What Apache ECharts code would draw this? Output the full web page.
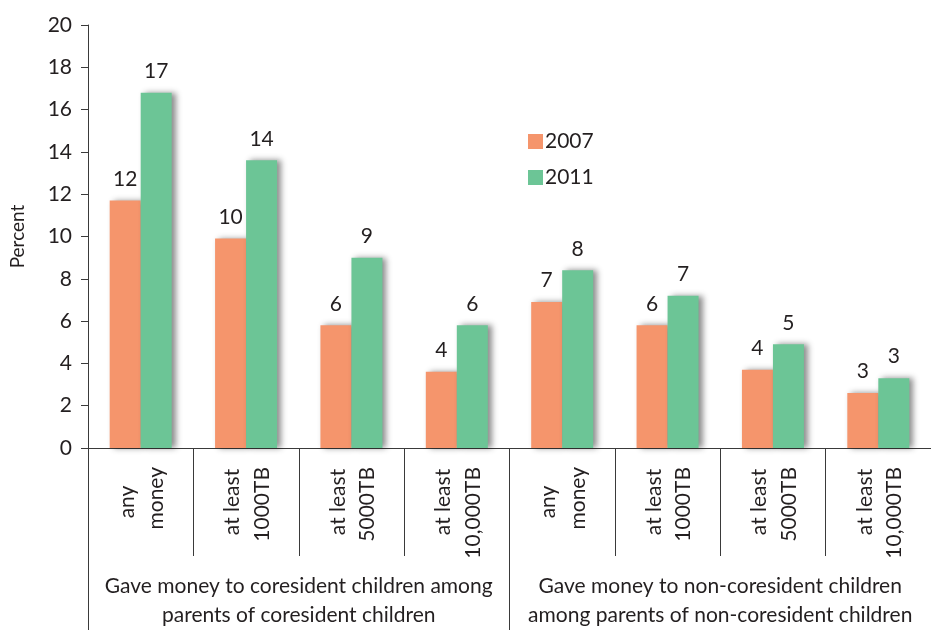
<!DOCTYPE html>
<html>
<head>
<meta charset="utf-8">
<script src="https://cdn.jsdelivr.net/npm/echarts@6/dist/echarts.min.js"></script>
<style>
  html, body { margin: 0; padding: 0; background: #fff; }
  #chart { width: 931px; height: 630px; }
</style>
</head>
<body>
<div id="chart"></div>
<script>
const categories = [
  'any\nmoney', 'at least\n1000TB', 'at least\n5000TB', 'at least\n10,000TB',
  'any\nmoney', 'at least\n1000TB', 'at least\n5000TB', 'at least\n10,000TB'
]
const groups = [
  'Gave money to coresident children among\nparents of coresident children',
  'Gave money to non-coresident children\namong parents of non-coresident children'
]
const values2007 = [11.7, 9.9, 5.8, 3.6, 6.9, 5.8, 3.7, 2.6]
const values2011 = [16.8, 13.6, 9.0, 5.8, 8.4, 7.2, 4.9, 3.3]
const labels2007 = [12, 10, 6, 4, 7, 6, 4, 3]
const labels2011 = [17, 14, 9, 6, 8, 7, 5, 3]
const yTicks = [0, 2, 4, 6, 8, 10, 12, 14, 16, 18, 20]

const FONT = 'Lato'
const TEXT = '#231f20'
const AXIS = '#3a3a3a'

// the rotated category labels are two lines, each on its own axis so the lines can be centred
const firstLines = categories.map(c => c.split('\n')[0])
const secondLines = categories.map(c => c.split('\n')[1])

const chart = echarts.init(document.getElementById('chart'))

const barShadow = {
  shadowColor: 'rgba(0,0,0,0.45)',
  shadowBlur: 6,
  shadowOffsetX: 4,
  shadowOffsetY: 0
}

const valueLabel = labels => ({
  show: true,
  position: 'top',
  distance: 11,
  fontFamily: FONT,
  fontSize: 21,
  color: TEXT,
  formatter: p => labels[p.dataIndex]
})

chart.setOption({
  animation: false,
  textStyle: { fontFamily: FONT, color: TEXT },
  legend: {
    orient: 'vertical',
    left: 523,
    top: 126,
    icon: 'rect',
    itemWidth: 15,
    itemHeight: 15,
    itemGap: 15,
    textStyle: { fontFamily: FONT, fontSize: 21, color: TEXT, padding: [0, 0, 0, -3] },
    data: ['2007', '2011']
  },
  grid: {
    left: 84,
    top: 25,
    width: 858,
    bottom: 180
  },
  xAxis: [
    {
      type: 'category',
      data: firstLines,
      position: 'bottom',
      axisLine: { lineStyle: { color: AXIS, width: 1 } },
      axisTick: { show: true, length: 108, interval: 0, lineStyle: { color: AXIS } },
      axisLabel: {
        interval: 0,
        rotate: 90,
        align: 'center',
        verticalAlign: 'middle',
        margin: 54,
        lineHeight: 27,
        // empty second line pushes the text to the left half of the category
        formatter: v => v + '\n',
        fontFamily: FONT,
        fontSize: 21,
        color: TEXT
      }
    },
    {
      type: 'category',
      data: secondLines,
      position: 'bottom',
      axisLine: { show: false },
      axisTick: { show: false },
      axisLabel: {
        interval: 0,
        rotate: 90,
        verticalAlign: 'middle',
        margin: 19,
        lineHeight: 32,
        // empty first line pushes the text to the right half of the category
        formatter: v => '\n' + v,
        fontFamily: FONT,
        fontSize: 21,
        color: TEXT
      }
    },
    {
      type: 'category',
      data: groups,
      position: 'bottom',
      axisLine: { show: true, lineStyle: { color: AXIS, width: 1 } },
      axisTick: { show: true, length: 190, interval: 0, lineStyle: { color: AXIS } },
      axisLabel: {
        interval: 0,
        margin: 124,
        fontFamily: FONT,
        fontSize: 21,
        lineHeight: 29,
        color: TEXT
      }
    }
  ],
  yAxis: {
    type: 'value',
    min: 0,
    max: 20,
    interval: 2,
    name: 'Percent',
    nameLocation: 'middle',
    nameGap: 61,
    nameTextStyle: { fontFamily: FONT, fontSize: 19, color: TEXT },
    splitLine: { show: false },
    axisLine: { show: true, lineStyle: { color: AXIS, width: 1 } },
    axisTick: { show: true, length: 7, lineStyle: { color: AXIS } },
    axisLabel: {
      fontFamily: FONT,
      fontSize: 21,
      color: TEXT,
      margin: 16,
      formatter: v => (yTicks.includes(v) ? String(v) : '')
    }
  },
  series: [
    {
      name: '2007',
      type: 'bar',
      data: values2007,
      barWidth: 31,
      barGap: '0%',
      itemStyle: Object.assign({ color: '#f5956c' }, barShadow),
      label: valueLabel(labels2007)
    },
    {
      name: '2011',
      type: 'bar',
      data: values2011,
      barWidth: 31,
      itemStyle: Object.assign({ color: '#6cc596' }, barShadow),
      label: valueLabel(labels2011)
    }
  ]
})
</script>
</body>
</html>
